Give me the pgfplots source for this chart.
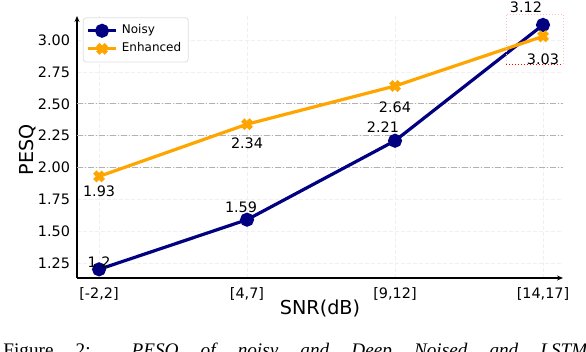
\documentclass[border=0pt]{standalone}
\usepackage{fontspec}
\setmainfont{DejaVu Sans}
\newfontfamily\capfont{Liberation Serif}
\usepackage{pgfplots}
\pgfplotsset{compat=1.18}
\usetikzlibrary{arrows.meta}

\definecolor{noisy}{RGB}{0,0,128}
\definecolor{enh}{RGB}{255,165,0}

% label offsets (dx, dy in pt) kept next to the values
\pgfplotstableread{
x y lab dx dy
0 1.20 1.2 0 0.3
1 1.59 1.59 -3 2.5
2 2.21 2.21 -6 3.5
3 3.12 3.12 -8.5 5.5
}\noisydata
\pgfplotstableread{
x y lab dx dy
0 1.93 1.93 0 -3.5
1 2.34 2.34 0 -5.5
2 2.64 2.64 0 -6.5
3 3.03 3.03 0 -7.5
}\enhdata

\begin{document}
\begin{tikzpicture}
\useasboundingbox (-38.5pt,-37pt) rectangle (254.5pt,139pt);
\clip (-38.5pt,-37pt) rectangle (254.5pt,139pt);
\begin{axis}[
  scale only axis, width=243pt, height=131pt,
  xmin=-0.149, xmax=3.135, ymin=1.132, ymax=3.19,
  axis lines=left,
  axis line style={line width=0.8pt, -{Stealth[length=3pt,width=2.5pt]}},
  major tick length=0pt,
  xtick={0,1,2,3},
  xticklabels={{[-2,2]},{[4,7]},{[9,12]},{[14,17]}},
  ytick={1.25,1.5,1.75,2,2.25,2.5,2.75,3},
  yticklabel style={/pgf/number format/.cd, fixed, fixed zerofill, precision=2},
  /pgf/number format/assume math mode=true,
  tick label style={font=\fontsize{7.2}{8}\selectfont},
  xticklabel style={yshift=-1.5pt},
  grid=major,
  major grid style={gray!12, dash pattern=on 2pt off 1pt, line width=0.4pt},
  extra y ticks={2,2.25,2.5},
  extra y tick labels={},
  extra y tick style={grid=major, major grid style={gray!60, dash pattern=on 3pt off 1pt on 0.5pt off 1pt, line width=0.4pt}},
  xlabel={SNR(dB)},
  ylabel={PESQ},
  label style={font=\fontsize{9.6}{11}\selectfont},
  xlabel style={at={(axis description cs:0.5,-0.115)}, anchor=center},
  ylabel style={at={(axis description cs:-0.101,0.49)}, anchor=center},
  legend cell align=left,
  legend image code/.code={\draw[mark repeat=2, mark phase=2] plot coordinates {(0cm,0cm) (0.25cm,0cm) (0.5cm,0cm)};},
  legend style={at={(0.012,0.995)}, anchor=north west, draw=gray!25, rounded corners=1.5pt,
    font=\fontsize{6}{7}\selectfont, inner sep=1.5pt, row sep=-1pt},
  clip=false,
  point meta=explicit symbolic,
  nodes near coords,
]
\addplot[noisy, line width=1.6pt, mark=*, mark size=2.7pt,
  visualization depends on={\thisrow{dx} \as \dx},
  visualization depends on={\thisrow{dy} \as \dy},
  every node near coord/.append style={font=\fontsize{7.2}{8}\selectfont, text=black,
    anchor=south, inner sep=0pt, xshift=\dx pt, yshift=\dy pt}]
  table[x=x, y=y, meta=lab] {\noisydata};
\addlegendentry{Noisy}
\addplot[enh, line width=1.6pt, mark=x, mark size=3pt, mark options={line width=2.4pt},
  visualization depends on={\thisrow{dx} \as \dx},
  visualization depends on={\thisrow{dy} \as \dy},
  every node near coord/.append style={font=\fontsize{7.2}{8}\selectfont, text=black,
    anchor=north, inner sep=0pt, xshift=\dx pt, yshift=\dy pt}]
  table[x=x, y=y, meta=lab] {\enhdata};
\addlegendentry{Enhanced}
\draw[red!25, densely dotted, line width=0.5pt] (axis cs:2.75,2.81) rectangle (axis cs:3.135,3.204);
\draw[red, densely dotted, line width=0.5pt] (axis cs:2.75,2.81) -- (axis cs:3.135,2.81);
\end{axis}
\node[anchor=base west, inner sep=0pt] at (-37pt,-39.5pt)
  {\capfont\fontsize{9.6}{11}\selectfont\makebox[292pt][s]{Figure 2: \itshape PESQ of noisy and Deep Noised and LSTM}};
\end{tikzpicture}
\end{document}
